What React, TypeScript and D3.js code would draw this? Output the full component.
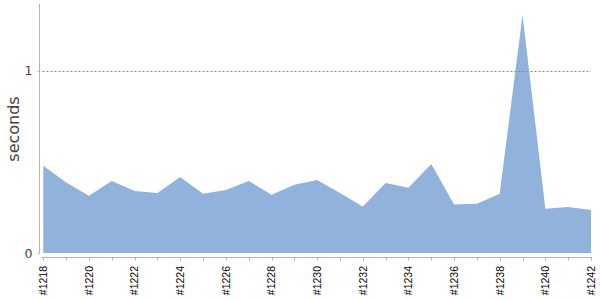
import React from "react";
import * as d3 from "d3";

const builds = [
  "#1218", "#1219", "#1220", "#1221", "#1222", "#1223", "#1224", "#1225", "#1226",
  "#1227", "#1228", "#1229", "#1230", "#1231", "#1232", "#1233", "#1234", "#1235",
  "#1236", "#1237", "#1238", "#1239", "#1240", "#1241", "#1242",
];
const seconds = [
  0.48, 0.388, 0.315, 0.396, 0.341, 0.33, 0.418, 0.326, 0.346, 0.396, 0.32, 0.375,
  0.401, 0.33, 0.255, 0.385, 0.359, 0.489, 0.266, 0.271, 0.326, 1.308, 0.243, 0.253, 0.236,
];
const yTicks = [0, 1];
const yLabel = "seconds";

export default function App() {
  const W = 600;
  const H = 300;
  const plotLeft = 39.5;
  const x = d3.scaleLinear().domain([0, builds.length - 1]).range([43.3, 591]);
  const y = d3.scaleLinear().domain([0, 1.368]).range([253, 4]);
  const area = d3
    .area<number>()
    .x((_, i) => x(i))
    .y0(y(0))
    .y1((d) => y(d));
  const axisY = 257.5;

  return (
    <svg
      width={W}
      height={H}
      style={{ position: "absolute", left: 0, top: 0 }}
      xmlns="http://www.w3.org/2000/svg"
    >
      <rect width={W} height={H} fill="#fff" />
      <path d={area(seconds) || ""} fill="#91b2db" stroke="none" />
      {/* gridline at 1 */}
      <line
        x1={plotLeft + 3}
        x2={591}
        y1={Math.round(y(1)) + 0.5}
        y2={Math.round(y(1)) + 0.5}
        stroke="#888"
        strokeWidth={1}
        strokeDasharray="2,2"
      />
      {/* y axis */}
      <line x1={plotLeft} x2={plotLeft} y1={4} y2={253} stroke="#b4b4b4" strokeWidth={1} />
      {yTicks.map((t) => (
        <g key={t}>
          <line
            x1={plotLeft - 2}
            x2={plotLeft}
            y1={Math.round(y(t)) + 0.5}
            y2={Math.round(y(t)) + 0.5}
            stroke="#b4b4b4"
          />
          <text
            x={32.5}
            y={y(t)}
            dy="0.36em"
            textAnchor="end"
            fontFamily="DejaVu Sans"
            fontSize={12.5}
            fill="#444"
          >
            {t}
          </text>
        </g>
      ))}
      <text
        transform={`translate(19,${129}) rotate(-90)`}
        textAnchor="middle"
        fontFamily="DejaVu Sans"
        fontSize={16}
        fill="#444"
      >
        {yLabel}
      </text>
      {/* x axis */}
      <line x1={41.5} x2={591.5} y1={axisY} y2={axisY} stroke="#b4b4b4" strokeWidth={1} />
      {builds.map((b, i) => (
        <g key={b}>
          <line
            x1={Math.round(x(i)) + 0.5}
            x2={Math.round(x(i)) + 0.5}
            y1={axisY}
            y2={axisY + 3}
            stroke="#b4b4b4"
          />
          {i % 2 === 0 && (
            <text
              transform={`translate(${x(i) + 3.8},266) rotate(-90)`}
              textAnchor="end"
              fontFamily="Liberation Sans"
              fontSize={10.5}
              fill="#000"
            >
              {b}
            </text>
          )}
        </g>
      ))}
    </svg>
  );
}
